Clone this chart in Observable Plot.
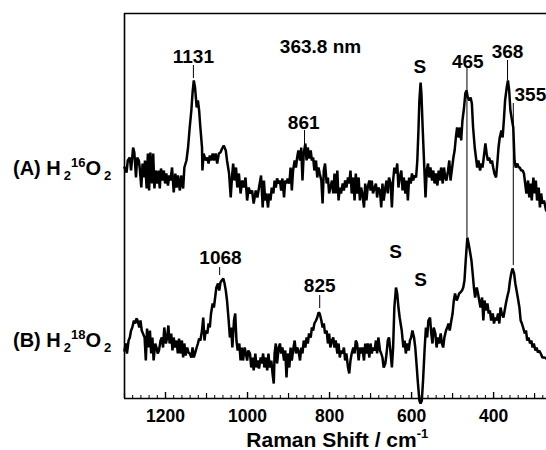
<!DOCTYPE html>
<html>
<head>
<meta charset="utf-8">
<script src="https://cdn.jsdelivr.net/npm/d3@7"></script>
<script src="https://cdn.jsdelivr.net/npm/@observablehq/plot@0.6"></script>
<style>
  html, body { margin: 0; padding: 0; background: #fff; }
  #chart { width: 546px; height: 450px; }
</style>
</head>
<body>
<div id="chart"></div>
<script>
// Raman shift (cm-1) and intensity (arbitrary units)
const shiftA = [1300,1295,1292,1287,1284,1279,1276,1272,1269,1265,1263,1259,1256,1253,1250,1246,1243,1240,1237,1233,1230,1227,1224,1220,1217,1214,1211,1207,1204,1201,1198,1194,1191,1188,1184,1180,1176,1173,1170,1165,1162,1157,1154,1149,1145,1141,1137,1134,1131,1128,1124,1121,1118,1115,1111,1110,1107,1102,1098,1095,1092,1089,1085,1082,1078,1074,1070,1066,1062,1058,1053,1050,1045,1041,1038,1035,1032,1028,1025,1021,1017,1013,1009,1005,1001,997,993,989,985,980,976,972,
967,963,960,957,954,950,947,944,941,937,934,931,928,924,921,918,915,911,908,905,902,898,895,892,889,885,882,879,876,872,869,866,863,859,856,853,850,846,843,840,837,833,830,827,824,820,817,814,811,807,804,801,798,794,791,788,785,781,778,775,772,768,765,762,759,755,752,749,746,742,739,736,733,729,726,723,720,716,713,710,707,703,700,697,694,690,687,684,681,677,674,671,668,664,661,658,655,651,648,645,642,638,635,632,629,
625,622,619,615,612,609,606,602,599,596,593,589,586,583,581,578,576,573,571,568,566,563,560,557,554,550,547,544,541,537,534,531,528,524,521,518,515,511,508,505,502,498,495,492,489,485,482,479,476,472,469,466,463,459,456,453,450,446,443,440,437,433,430,427,424,420,417,414,411,407,404,401,398,394,391,388,385,381,378,375,372,368,365,362,359,355,352,349,346,342,339,336,333,329,326,323,320,316,313,310,307,303,300,297,294,290,287,284,281,277,272];
const intensityA = [231,226,238,241,228,251,246,221,241,238,231,211,235,221,238,210,245,208,246,215,245,210,228,215,228,210,230,218,228,215,225,213,223,218,231,206,225,211,223,208,223,210,231,238,251,271,288,306,318,311,291,298,288,271,251,228,245,238,241,235,243,238,245,238,245,235,245,246,250,253,248,238,225,201,221,235,218,231,211,225,205,218,211,221,198,211,205,208,195,208,201,211,
223,191,218,198,205,191,205,198,211,205,218,211,220,215,218,208,220,201,218,215,220,215,231,208,228,238,231,241,248,238,251,218,245,255,238,251,240,248,238,241,228,238,221,231,225,218,195,228,235,215,221,205,211,218,205,225,205,228,198,211,205,215,208,218,211,221,215,228,205,221,198,225,205,221,198,211,205,191,215,198,211,218,208,218,205,211,215,201,211,208,191,215,198,211,218,205,221,215,191,218,231,225,235,211,221,
228,208,221,205,218,198,221,215,225,218,223,221,238,271,298,316,305,271,251,221,201,228,235,221,231,218,228,215,225,213,228,218,231,215,231,221,218,228,238,218,228,241,248,261,271,261,271,258,278,291,305,308,301,298,301,295,271,251,241,231,238,228,235,231,241,255,245,238,241,235,238,231,225,221,235,251,261,268,261,278,298,311,318,308,288,278,271,238,231,235,231,231,228,228,225,215,205,218,201,215,198,221,205,218,198,211,191,205,195,198,188];

const shiftB = [1300,1297,1294,1290,1287,1284,1281,1277,1274,1271,1268,1264,1261,1258,1255,1251,1248,1245,1242,1238,1235,1232,1229,1225,1222,1219,1216,1212,1209,1206,1203,1199,1196,1193,1190,1186,1183,1180,1177,1173,1170,1167,1164,1160,1157,1154,1151,1147,1144,1141,1137,1134,1131,1128,1124,1121,1118,1115,1111,1108,1105,1102,1098,1095,1092,1089,1085,1082,1079,1076,1072,1069,1066,1063,1059,1056,1053,1050,1046,1043,1040,1037,1033,1030,1027,1024,1020,1017,1014,1011,1007,1004,1001,998,994,991,988,985,981,978,975,972,
968,965,962,959,955,952,949,946,942,939,936,934,931,928,924,921,918,915,911,908,905,902,898,895,892,889,885,882,879,876,872,869,866,863,859,856,853,850,846,843,840,837,833,830,827,824,820,817,814,811,807,804,801,798,794,791,788,785,781,778,775,772,768,765,762,759,755,752,749,746,742,739,736,733,729,726,723,720,716,713,710,707,703,700,697,694,690,687,684,681,677,674,671,668,664,661,658,655,651,648,645,642,638,635,632,629,
624,620,617,614,611,607,604,601,598,594,591,588,585,581,578,575,572,568,565,562,559,555,552,549,546,542,539,536,533,529,526,523,520,516,513,510,507,503,500,497,494,490,487,484,481,477,474,471,468,464,461,458,454,451,448,445,441,438,435,432,428,425,422,419,415,412,409,406,402,399,396,393,389,386,383,380,376,373,370,367,363,360,357,354,350,347,344,341,337,334,331,328,324,321,318,315,311,308,305,302,298,295,292,289,285,281,276,272];
const intensityB = [48,55,45,58,61,68,71,78,75,80,78,71,78,68,65,61,38,70,51,68,45,61,38,55,51,45,48,58,61,51,71,55,61,73,55,65,48,61,51,58,45,60,45,58,41,55,43,51,46,45,41,51,41,45,51,55,60,58,68,81,58,68,65,75,71,85,95,91,101,111,115,108,116,118,120,115,108,98,78,61,71,51,78,85,58,48,55,38,51,38,51,45,38,48,45,31,41,28,45,31,38,30,
41,35,45,31,41,28,45,31,38,25,15,45,55,35,51,55,45,51,38,48,21,45,31,51,38,48,58,45,51,48,38,51,45,58,51,61,55,65,61,71,68,75,78,81,86,85,78,71,75,65,68,55,65,51,58,61,51,58,45,55,41,48,45,51,38,45,31,25,38,45,51,45,58,55,38,51,45,51,38,55,45,55,41,55,45,51,48,58,45,61,48,45,41,31,35,45,58,61,45,31,51,91,111,105,91,81,
68,51,58,45,55,48,58,61,68,61,51,35,18,-2,-5,-2,18,51,71,61,78,81,65,55,71,65,51,61,55,65,55,51,61,68,71,75,68,78,85,98,105,98,101,105,106,108,111,118,138,161,155,148,138,125,111,101,111,105,98,91,101,78,98,88,95,85,88,78,85,75,81,78,85,75,91,85,81,88,95,101,108,118,125,130,125,115,108,101,91,78,75,71,65,68,58,61,55,58,51,55,48,51,46,48,45,41,41,40];

// axis ticks
const majorTicks = [1200, 1000, 800, 600, 400];
const hundredTicks = [1300, 1100, 900, 700, 500, 300];
const minorTicks = d3.range(280, 1300, 20).filter(v => v % 100 !== 0);

// peak annotations
const peakLabels = [
  {x: 1132, y: 336, text: "1131"},
  {x: 822, y: 346, text: "363.8 nm"},
  {x: 580, y: 326, text: "S"},
  {x: 463, y: 331, text: "465"},
  {x: 366, y: 341, text: "368"},
  {x: 863, y: 270, text: "861"},
  {x: 1066, y: 135, text: "1068"},
  {x: 824, y: 107, text: "825"},
  {x: 639, y: 141, text: "S"},
  {x: 578, y: 113, text: "S"}
];
const sideLabels = [
  {x: 349, y: 298, text: "355"}
];
const peakLines = [
  {x: 1132, y1: 333, y2: 320},
  {x: 861, y1: 268, y2: 253},
  {x: 465, y1: 330, y2: 161},
  {x: 366, y1: 338, y2: 318},
  {x: 352, y1: 295, y2: 133},
  {x: 1068, y1: 131, y2: 123},
  {x: 824, y1: 103, y2: 90}
];

const dataA = shiftA.map((x, i) => ({x, y: intensityA[i]}));
const dataB = shiftB.map((x, i) => ({x, y: intensityB[i]}));

const plot = Plot.plot({
  width: 546,
  height: 450,
  marginLeft: 124,
  marginRight: 0,
  marginTop: 13,
  marginBottom: 52,
  x: {domain: [1300, 271], axis: null},
  y: {domain: [0, 385], axis: null},
  style: {fontFamily: "'Liberation Sans', Arial, Helvetica, sans-serif", background: "#fff", color: "#000", overflow: "visible"},
  marks: [
    Plot.ruleY([0], {strokeWidth: 1.6}),
    Plot.ruleY([385], {strokeWidth: 1.6}),
    Plot.ruleX([1300], {strokeWidth: 1.6}),
    Plot.ruleX(minorTicks, {y1: 0, y2: 3, strokeWidth: 1}),
    Plot.ruleX(hundredTicks, {y1: 0, y2: 5, strokeWidth: 1.2}),
    Plot.ruleX(majorTicks, {y1: 0, y2: 6, strokeWidth: 1.4}),
    Plot.axisX(majorTicks, {tickSize: 0, tickPadding: 11, fontSize: 17.5, fontWeight: "bold", tickFormat: d => String(d), label: null}),
    Plot.ruleX(peakLines, {x: "x", y1: "y1", y2: "y2", strokeWidth: 1}),
    Plot.line(dataA, {x: "x", y: "y", strokeWidth: 2.5, strokeLinejoin: "miter"}),
    Plot.line(dataB, {x: "x", y: "y", strokeWidth: 2.5, strokeLinejoin: "miter"}),
    Plot.text(peakLabels, {x: "x", y: "y", text: "text", textAnchor: "middle", lineAnchor: "bottom", fontSize: 19, fontWeight: "bold"}),
    Plot.text(sideLabels, {x: "x", y: "y", text: "text", textAnchor: "start", lineAnchor: "bottom", fontSize: 19, fontWeight: "bold"})
  ]
});

const svg = d3.select(plot);
const ys = plot.scale("y");
const xs = plot.scale("x");

function sampleLabel(letter, iso, yVal) {
  const t = svg.append("text")
    .attr("x", 13).attr("y", ys.apply(yVal))
    .attr("text-anchor", "start")
    .attr("font-size", 20).attr("font-weight", "bold").attr("fill", "#000");
  t.append("tspan").text(`(${letter}) H`);
  t.append("tspan").attr("dx", 3).attr("dy", 5).attr("font-size", 13).text("2");
  t.append("tspan").attr("dy", -13).attr("font-size", 13).text(iso);
  t.append("tspan").attr("dy", 8).text("O");
  t.append("tspan").attr("dx", 3).attr("dy", 5).attr("font-size", 13).text("2");
}
sampleLabel("A", "16", 223);
sampleLabel("B", "18", 51);

const xl = svg.append("text")
  .attr("x", xs.apply(780)).attr("y", 447)
  .attr("text-anchor", "middle")
  .attr("font-size", 21).attr("font-weight", "bold").attr("fill", "#000");
xl.append("tspan").text("Raman Shift / cm");
xl.append("tspan").attr("dy", -9).attr("font-size", 13).text("-1");

document.getElementById("chart").appendChild(plot);
</script>
</body>
</html>
